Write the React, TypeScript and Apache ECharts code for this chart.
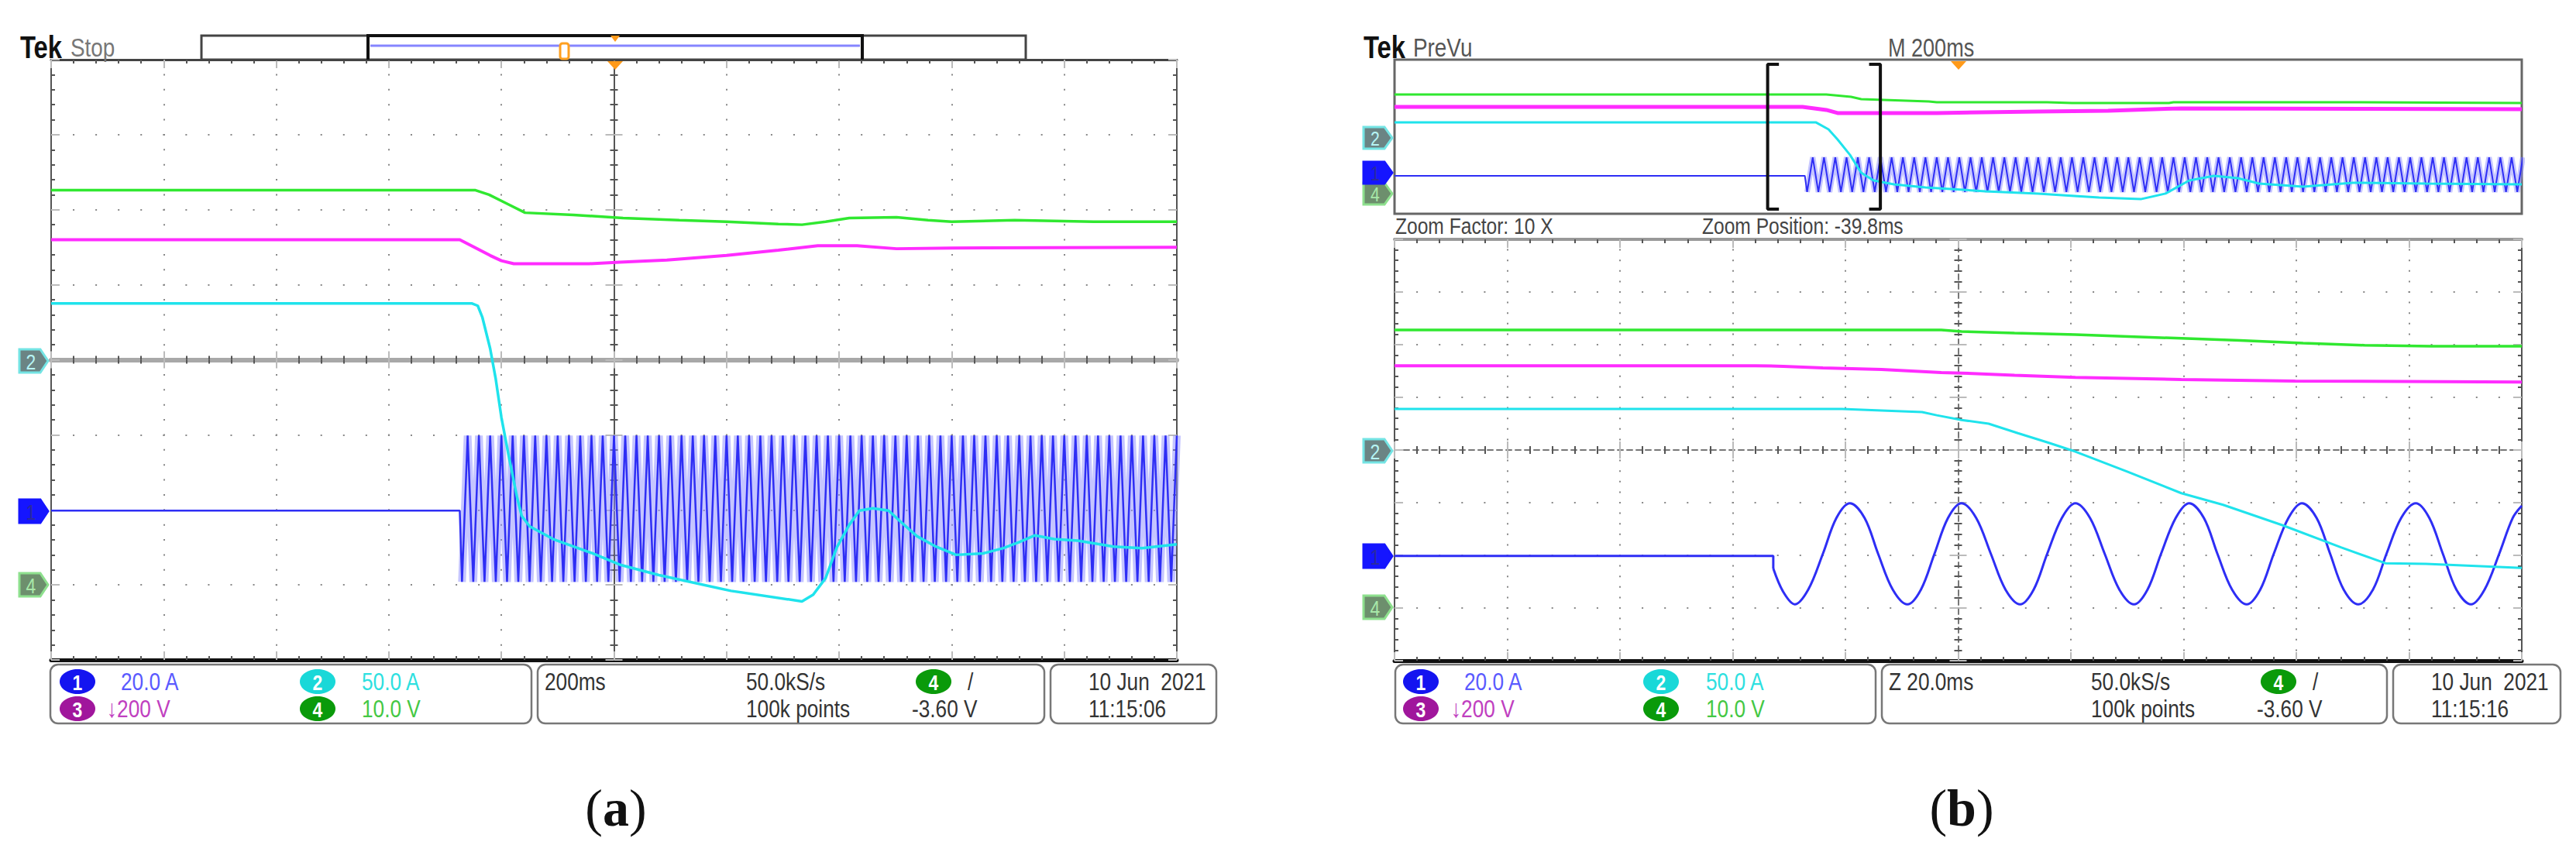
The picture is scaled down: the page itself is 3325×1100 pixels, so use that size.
import React, { useEffect, useRef } from "react";
import * as echarts from "echarts";

// ================= DATA (screen divisions: x centred on the trigger, y centred on the screen) =================
// ---- Panel (a): whole record, 200 ms/div ----
const ch4A = [[-5, 2.26], [-1.23, 2.26], [-1.11, 2.2], [-0.95, 2.08], [-0.79, 1.96], [-0.36, 1.93], [0.08, 1.89], [0.58, 1.86], [1.0, 1.84], [1.46, 1.81], [1.67, 1.8], [1.88, 1.84], [2.09, 1.89], [2.51, 1.9], [2.79, 1.86], [3.0, 1.84], [3.56, 1.86], [3.91, 1.85], [4.26, 1.84], [5, 1.84]];
const ch3A = [[-5, 1.6], [-1.37, 1.6], [-1.24, 1.5], [-1.1, 1.39], [-1.0, 1.32], [-0.89, 1.28], [-0.22, 1.28], [0.05, 1.3], [0.47, 1.33], [1.0, 1.39], [1.46, 1.46], [1.81, 1.52], [2.16, 1.52], [2.51, 1.48], [3.0, 1.49], [5, 1.5]];
const ch2A = [[-5, 0.75], [-1.26, 0.75], [-1.21, 0.72], [-1.17, 0.57], [-1.1, 0.15], [-1.05, -0.26], [-1.0, -0.77], [-0.93, -1.32], [-0.86, -1.84], [-0.82, -2.08], [-0.75, -2.22], [-0.54, -2.39], [-0.19, -2.58], [0.05, -2.73], [0.4, -2.87], [1.04, -3.08], [1.67, -3.22], [1.77, -3.13], [1.88, -2.91], [1.98, -2.5], [2.09, -2.2], [2.18, -2.01], [2.3, -1.98], [2.44, -2.01], [2.54, -2.15], [2.69, -2.35], [2.86, -2.49], [3.04, -2.6], [3.28, -2.58], [3.46, -2.51], [3.6, -2.43], [3.74, -2.34], [3.91, -2.39], [4.12, -2.41], [4.44, -2.49], [4.69, -2.51], [5, -2.46]];
const ch1AFlat = [[-5, -2.01], [-1.37, -2.01]];
const ch1ASwingStart = -1.35; // first extreme after the drive starts (div)
const ch1ASwingStep = 0.05; // spacing of successive extremes (50 Hz at 200 ms/div)
const ch1ASwing = [
  -2.96, -1.01, -2.96, -1.01, -2.96, -1.01, -2.96, -1.01, -2.96, -1.01, -2.96, -1.01, -2.96, -1.01, -2.96, -1.01,
  -2.96, -1.01, -2.96, -1.01, -2.96, -1.01, -2.96, -1.01, -2.96, -1.01, -2.96, -1.01, -2.96, -1.01, -2.96, -1.01,
  -2.96, -1.01, -2.96, -1.01, -2.96, -1.01, -2.96, -1.01, -2.96, -1.01, -2.96, -1.01, -2.96, -1.01, -2.96, -1.01,
  -2.96, -1.01, -2.96, -1.01, -2.96, -1.01, -2.96, -1.01, -2.96, -1.01, -2.96, -1.01, -2.96, -1.01, -2.96, -1.01,
  -2.96, -1.01, -2.96, -1.01, -2.96, -1.01, -2.96, -1.01, -2.96, -1.01, -2.96, -1.01, -2.96, -1.01, -2.96, -1.01,
  -2.96, -1.01, -2.96, -1.01, -2.96, -1.01, -2.96, -1.01, -2.96, -1.01, -2.96, -1.01, -2.96, -1.01, -2.96, -1.01,
  -2.96, -1.01, -2.96, -1.01, -2.96, -1.01, -2.96, -1.01, -2.96, -1.01, -2.96, -1.01, -2.96, -1.01, -2.96, -1.01,
  -2.96, -1.01, -2.96, -1.01, -2.96, -1.01, -2.96, -1.01, -2.96, -1.01, -2.96, -1.01, -2.96, -1.01, -2.96, -1.01,
];

// ---- Panel (b) PreVu strip: whole record, 200 ms/div ----
const ch4P = [[-5, 2.19], [-1.17, 2.19], [-0.95, 2.07], [-0.86, 1.95], [-0.26, 1.83], [-0.19, 1.79], [0.79, 1.79], [1.01, 1.75], [1.87, 1.75], [1.91, 1.79], [3.5, 1.79], [5, 1.75]];
const ch3P = [[-5, 1.55], [-1.38, 1.55], [-1.17, 1.39], [-1.07, 1.23], [-0.19, 1.23], [0.71, 1.31], [1.33, 1.35], [1.98, 1.47], [5, 1.43]];
const ch2P = [[-5, 0.74], [-1.26, 0.74], [-1.15, 0.38], [-1.07, -0.14], [-0.96, -0.94], [-0.86, -1.87], [-0.75, -2.27], [-0.57, -2.47], [-0.29, -2.63], [0.24, -2.83], [0.71, -2.95], [1.25, -3.16], [1.62, -3.24], [1.84, -2.95], [2.05, -2.27], [2.27, -2.03], [2.48, -2.15], [2.67, -2.43], [3.06, -2.59], [3.5, -2.39], [4.15, -2.43], [5, -2.47]];
const ch1PFlat = [[-5, -2.03], [-1.36, -2.03]];
const ch1PSwingStart = -1.34;
const ch1PSwingStep = 0.05;
const ch1PSwing = [
  -2.87, -1.07, -2.87, -1.07, -2.87, -1.07, -2.87, -1.07, -2.87, -1.07, -2.87, -1.07, -2.87, -1.07, -2.87, -1.07,
  -2.87, -1.07, -2.87, -1.07, -2.87, -1.07, -2.87, -1.07, -2.87, -1.07, -2.87, -1.07, -2.87, -1.07, -2.87, -1.07,
  -2.87, -1.07, -2.87, -1.07, -2.87, -1.07, -2.87, -1.07, -2.87, -1.07, -2.87, -1.07, -2.87, -1.07, -2.87, -1.07,
  -2.87, -1.07, -2.87, -1.07, -2.87, -1.07, -2.87, -1.07, -2.87, -1.07, -2.87, -1.07, -2.87, -1.07, -2.87, -1.07,
  -2.87, -1.07, -2.87, -1.07, -2.87, -1.07, -2.87, -1.07, -2.87, -1.07, -2.87, -1.07, -2.87, -1.07, -2.87, -1.07,
  -2.87, -1.07, -2.87, -1.07, -2.87, -1.07, -2.87, -1.07, -2.87, -1.07, -2.87, -1.07, -2.87, -1.07, -2.87, -1.07,
  -2.87, -1.07, -2.87, -1.07, -2.87, -1.07, -2.87, -1.07, -2.87, -1.07, -2.87, -1.07, -2.87, -1.07, -2.87, -1.07,
  -2.87, -1.07, -2.87, -1.07, -2.87, -1.07, -2.87, -1.07, -2.87, -1.07, -2.87, -1.07, -2.87, -1.07, -2.87, -1.07,
];
const zoomWindow = [-1.69, -0.69]; // PreVu bracket positions (div)

// ---- Panel (b) zoomed view, 20 ms/div ----
const ch4B = [[-5, 2.28], [-0.15, 2.28], [0.03, 2.25], [0.5, 2.22], [1.04, 2.19], [1.98, 2.12], [2.5, 2.08], [3.06, 2.03], [3.6, 1.99], [4.2, 1.97], [5, 1.97]];
const ch3B = [[-5, 1.6], [-1.8, 1.6], [-1.55, 1.59], [-1.2, 1.56], [-0.68, 1.53], [-0.15, 1.47], [0.03, 1.46], [0.5, 1.42], [1.04, 1.38], [1.98, 1.34], [2.99, 1.31], [5, 1.29]];
const ch2B = [[-5, 0.78], [-1.03, 0.78], [-0.68, 0.75], [-0.32, 0.72], [-0.19, 0.66], [0.03, 0.57], [0.27, 0.5], [0.53, 0.32], [0.8, 0.14], [1.04, -0.03], [1.5, -0.41], [1.98, -0.82], [2.35, -1.04], [2.88, -1.43], [3.4, -1.85], [3.79, -2.15], [4.15, -2.16], [5, -2.24]];
const ch1BFlat = [[-5, -2.01], [-1.64, -2.01], [-1.64, -2.25]];
const ch1BWave = [
  [-1.64, -2.25], [-1.55, -2.7], [-1.45, -2.93],
  [-1.33, -2.65], [-1.2, -1.97], [-1.08, -1.29], [-0.96, -1.01], [-0.83, -1.29], [-0.71, -1.97], [-0.58, -2.65], [-0.45, -2.93],
  [-0.33, -2.65], [-0.21, -1.97], [-0.09, -1.29], [0.03, -1.01], [0.16, -1.29], [0.29, -1.97], [0.42, -2.65], [0.55, -2.93],
  [0.67, -2.65], [0.79, -1.97], [0.92, -1.29], [1.04, -1.01], [1.17, -1.29], [1.3, -1.97], [1.43, -2.65], [1.56, -2.93],
  [1.68, -2.65], [1.8, -1.97], [1.93, -1.29], [2.05, -1.01], [2.18, -1.29], [2.3, -1.97], [2.43, -2.65], [2.56, -2.93],
  [2.68, -2.65], [2.8, -1.97], [2.93, -1.29], [3.05, -1.01], [3.18, -1.29], [3.3, -1.97], [3.42, -2.65], [3.55, -2.93],
  [3.68, -2.65], [3.8, -1.97], [3.93, -1.29], [4.06, -1.01], [4.18, -1.29], [4.3, -1.97], [4.42, -2.65], [4.55, -2.93],
  [4.67, -2.65], [4.8, -1.97], [4.92, -1.29], [5.0, -1.06],
];

// ---- Texts ----
const chScales = ["20.0 A", "\u2193200 V", "50.0 A", "10.0 V"];
const acqTexts = ["50.0kS/s", "100k points", "-3.60 V", "10 Jun\u00a0\u00a02021"];
const timeA = ["200ms", "11:15:06", "Stop"];
const timeB = ["Z 20.0ms", "11:15:16", "PreVu", "M 200ms", "Zoom Factor: 10 X", "Zoom Position: -39.8ms"];

// ================= STYLE =================
const FONT = "'Liberation Sans', Arial, sans-serif";
const NARROW = 0.82;
const SERIF = "'Liberation Serif', 'DejaVu Serif', serif";
const C1 = "#2e2ef5";
const C1L = "rgba(140,140,255,0.5)";
const C2 = "#1fe3ec";
const C3 = "#ff2cff";
const C4 = "#30e830";

const swingData = (flat: number[][], start: number, step: number, vals: number[]) =>
  flat.concat(vals.map((v, i) => [start + i * step, v]));

function gx(gridIndex: number, position: string, onZero: boolean, line: any, split?: any, ticks = true) {
  return {
    type: "value", gridIndex, min: -5, max: 5, interval: 1, position,
    axisLine: { show: !!line, onZero, lineStyle: line || {} },
    axisTick: { show: ticks, inside: true, length: 11, lineStyle: { color: "#bbb", width: 2 } },
    minorTick: { show: ticks, splitNumber: 5, length: 5, lineStyle: { color: "#555", width: 2 } },
    splitLine: split ? { show: true, lineStyle: split } : { show: false },
    axisLabel: { show: false },
  };
}
function gy(gridIndex: number, position: string, onZero: boolean, line: any, split?: any, ticks = true) {
  return {
    type: "value", gridIndex, min: -4, max: 4, interval: 1, position,
    axisLine: { show: !!line, onZero, lineStyle: line || {} },
    axisTick: { show: ticks, inside: true, length: 11, lineStyle: { color: "#bbb", width: 2 } },
    minorTick: { show: ticks, splitNumber: 5, length: 5, lineStyle: { color: "#555", width: 2 } },
    splitLine: split ? { show: true, lineStyle: split } : { show: false },
    axisLabel: { show: false },
  };
}

function line(xi: number, yi: number, data: any, color: string, width: number, extra: any = {}) {
  return {
    type: "line", xAxisIndex: xi, yAxisIndex: yi, data, symbol: "none", showSymbol: false,
    lineStyle: { color, width }, itemStyle: { color }, silent: true, z: 5, ...extra,
  };
}

function txt(x: number, y: number, text: string, fill: string, size = 32, extra: any = {}) {
  return {
    type: "text", x, y, z: 30, silent: true, scaleX: NARROW,
    style: {
      text, fill, fontSize: size, fontFamily: FONT,
      align: "left", verticalAlign: "middle", textAlign: "left", textVerticalAlign: "middle", ...extra,
    },
  };
}
function badge(cx: number, cy: number, n: string, fill: string) {
  return [
    { type: "ellipse", z: 30, silent: true, shape: { cx, cy, rx: 23, ry: 16 }, style: { fill } },
    txt(cx, cy + 1, n, "#fff", 28, { align: "center", textAlign: "center", fontWeight: "bold" }),
  ];
}
function marker(x: number, cy: number, h: number, n: string, fill: string, stroke: string, color: string) {
  return [
    {
      type: "polygon", z: 30, silent: true,
      shape: { points: [[x, cy - h / 2], [x + 27, cy - h / 2], [x + 37, cy], [x + 27, cy + h / 2], [x, cy + h / 2]] },
      style: { fill, stroke, lineWidth: 3 },
    },
    txt(x + 15, cy + 1, n, color, h - 2, { align: "center", textAlign: "center" }),
  ];
}
function box(x: number, y: number, w: number, h: number) {
  return { type: "rect", z: 25, silent: true, shape: { x, y, width: w, height: h, r: 10 }, style: { fill: "#fff", stroke: "#777", lineWidth: 2.5 } };
}
function tri(cx: number, top: number) {
  return { type: "polygon", z: 30, silent: true, shape: { points: [[cx - 10, top], [cx + 10, top], [cx, top + 11]] }, style: { fill: "#ff9a1a" } };
}

function statusBar(x0: number, ch: number[], acqX: number, acqTrigX: number, boxes: number[][], tTexts: string[]) {
  const g: any[] = [];
  boxes.forEach((b) => g.push(box(b[0], 858, b[1], 76)));
  const r1 = 880, r2 = 915;
  g.push(...badge(x0 + 34, r1, "1", "#1414f0"));
  g.push(txt(ch[0], r1, chScales[0], "#5a5aff"));
  g.push(...badge(x0 + 34, r2, "3", "#a0169c"));
  g.push(txt(ch[1], r2, chScales[1], "#c040c0"));
  g.push(...badge(x0 + 344, r1, "2", "#19d8d8"));
  g.push(txt(ch[2], r1, chScales[2], "#2ee0e0"));
  g.push(...badge(x0 + 344, r2, "4", "#0a9a0a"));
  g.push(txt(ch[2], r2, chScales[3], "#44c844"));
  g.push(txt(boxes[1][0] + 9, r1, tTexts[0], "#333"));
  g.push(txt(acqX, r1, acqTexts[0], "#333"));
  g.push(txt(acqX, r2, acqTexts[1], "#333"));
  g.push(...badge(acqTrigX + 28, r1, "4", "#0a9a0a"));
  g.push(txt(acqTrigX + 72, r1, "/", "#333"));
  g.push(txt(acqTrigX, r2, acqTexts[2], "#333"));
  g.push(txt(boxes[2][0] + 49, r1, acqTexts[3], "#333"));
  g.push(txt(boxes[2][0] + 49, r2, tTexts[1], "#333"));
  return g;
}

function buildGraphic() {
  const g: any[] = [];
  // ----- panel (a) header -----
  g.push(txt(26, 61, "Tek", "#111", 40, { fontWeight: "bold" }));
  g.push(txt(91, 62, timeA[2], "#777", 34));
  g.push({ type: "rect", z: 25, silent: true, shape: { x: 260, y: 46, width: 1064, height: 31 }, style: { fill: "#fff", stroke: "#444", lineWidth: 3 } });
  g.push({ type: "polyline", z: 26, silent: true, shape: { points: [[475, 77], [475, 46], [1113, 46], [1113, 77]] }, style: { stroke: "#111", lineWidth: 4, fill: null } });
  g.push({ type: "line", z: 26, silent: true, shape: { x1: 478, y1: 59, x2: 1110, y2: 59 }, style: { stroke: "#8585ff", lineWidth: 3 } });
  g.push({ type: "rect", z: 27, silent: true, shape: { x: 723, y: 56, width: 11, height: 20, r: 3 }, style: { fill: "#fff", stroke: "#ffa020", lineWidth: 3 } });
  g.push({ type: "polygon", z: 27, silent: true, shape: { points: [[788, 46], [800, 46], [794, 54]] }, style: { fill: "#ff9a1a" } });
  g.push(tri(794, 79));
  // markers (a)
  g.push(...marker(25, 466, 30, "2", "#6b8484", "#74e4e4", "#b6f4f4"));
  g.push(...marker(25, 660, 30, "1", "#1515ff", "#1515ff", "#2a2aa0"));
  g.push(...marker(25, 755, 30, "4", "#6d8f6d", "#8ee08e", "#a8e8a8"));
  // status (a)
  g.push(...statusBar(66, [156, 138, 467], 963, 1177, [[65, 621], [694, 654], [1356, 214]], timeA));

  // ----- panel (b) header -----
  g.push(txt(1760, 61, "Tek", "#111", 40, { fontWeight: "bold" }));
  g.push(txt(1824, 62, timeB[2], "#555", 34));
  g.push(txt(2437, 62, timeB[3], "#555", 33));
  g.push(tri(2528, 79));
  g.push(txt(1801, 292, timeB[4], "#444", 30));
  g.push(txt(2197, 292, timeB[5], "#444", 30));
  g.push(...marker(1760, 178, 28, "2", "#6b8484", "#74e4e4", "#b6f4f4"));
  g.push(...marker(1760, 250, 28, "4", "#6d8f6d", "#8ee08e", "#a8e8a8"));
  g.push(...marker(1760, 223, 28, "1", "#1515ff", "#1515ff", "#2a2aa0"));
  g.push(...marker(1760, 582, 30, "2", "#6b8484", "#74e4e4", "#b6f4f4"));
  g.push(...marker(1760, 718, 30, "1", "#1515ff", "#1515ff", "#2a2aa0"));
  g.push(...marker(1760, 784, 30, "4", "#6d8f6d", "#8ee08e", "#a8e8a8"));
  g.push(...statusBar(1800, [1890, 1873, 2202], 2699, 2913, [[1801, 620], [2429, 652], [3089, 216]], timeB));

  // ----- captions -----
  const cap = (cx: number, l: string) => ({
    type: "text", x: cx, y: 1043, z: 30, silent: true,
    style: {
      text: "{p|(}{b|" + l + "}{p|)}", align: "center", verticalAlign: "middle", textAlign: "center", textVerticalAlign: "middle",
      rich: {
        p: { fontSize: 68, fontFamily: SERIF, fill: "#111" },
        b: { fontSize: 68, fontFamily: SERIF, fontWeight: "bold", fill: "#111" },
      },
    },
  });
  g.push(cap(795, "a"));
  g.push(cap(2532, "b"));
  return g;
}

function buildOption() {
  const dotV_A = { color: "#888", width: 2, type: [2, 17.375], dashOffset: 1 };
  const dotH_A = { color: "#888", width: 2, type: [2, 27.06], dashOffset: 1 };
  const dotV_B = { color: "#888", width: 2, type: [2, 11.6], dashOffset: 1 };
  const dotH_B = { color: "#888", width: 2, type: [2, 27.1], dashOffset: 1 };
  const hidden = (gi: number, dim: "x" | "y") => ({ type: "value", gridIndex: gi, min: dim === "x" ? -5 : -4, max: dim === "x" ? 5 : 4, interval: 1, show: false });

  const zb = zoomWindow;
  const bracketL = [[zb[0] + 0.1, 3.76], [zb[0], 3.76], [zb[0], -3.76], [zb[0] + 0.1, -3.76]];
  const bracketR = [[zb[1] - 0.1, 3.76], [zb[1], 3.76], [zb[1], -3.76], [zb[1] - 0.1, -3.76]];

  const ch1A = swingData(ch1AFlat, ch1ASwingStart, ch1ASwingStep, ch1ASwing);
  const ch1AGlow = swingData([], ch1ASwingStart, ch1ASwingStep, ch1ASwing);
  const ch1P = swingData(ch1PFlat, ch1PSwingStart, ch1PSwingStep, ch1PSwing);
  const ch1PGlow = swingData([], ch1PSwingStart, ch1PSwingStep, ch1PSwing);

  return {
    animation: false,
    backgroundColor: "#fff",
    grid: [
      { left: 66, top: 77, width: 1453, height: 775, show: false },
      { left: 1800, top: 77, width: 1455, height: 199, show: true, borderColor: "#666", borderWidth: 3, backgroundColor: "transparent" },
      { left: 1800, top: 309, width: 1455, height: 544, show: false },
    ],
    xAxis: [
      gx(0, "bottom", false, { color: "#111", width: 5 }, dotV_A),
      gx(0, "top", false, { color: "#444", width: 3 }),
      gx(0, "bottom", true, { color: "#a8a8a8", width: 6 }),
      gx(0, "top", true, null),
      hidden(1, "x"),
      gx(2, "bottom", false, { color: "#111", width: 5 }, dotV_B),
      gx(2, "top", false, { color: "#999", width: 4 }),
      gx(2, "bottom", true, { color: "#777", width: 2, type: [7, 5] }),
      gx(2, "top", true, null),
    ],
    yAxis: [
      gy(0, "left", false, { color: "#555", width: 2 }, dotH_A),
      gy(0, "right", false, { color: "#555", width: 2 }),
      gy(0, "left", true, { color: "#555", width: 2 }),
      gy(0, "right", true, null),
      hidden(1, "y"),
      gy(2, "left", false, { color: "#555", width: 2 }, dotH_B),
      gy(2, "right", false, { color: "#555", width: 2 }),
      gy(2, "left", true, { color: "#777", width: 2, type: [7, 5] }),
      gy(2, "right", true, null),
    ],
    series: [
      // panel (a)
      line(0, 0, ch1AGlow, C1L, 10),
      line(0, 0, ch1A, C1, 2.5),
      line(0, 0, ch4A, C4, 3.5),
      line(0, 0, ch3A, C3, 4),
      line(0, 0, ch2A, C2, 3.5),
      // PreVu
      line(4, 4, ch1PGlow, C1L, 7),
      line(4, 4, ch1P, C1, 2),
      line(4, 4, ch4P, C4, 3),
      line(4, 4, ch3P, C3, 5),
      line(4, 4, ch2P, C2, 3),
      line(4, 4, bracketL, "#111", 4),
      line(4, 4, bracketR, "#111", 4),
      // zoomed (b)
      line(5, 5, ch1BFlat, C1, 3),
      line(5, 5, ch1BWave, C1, 3, { smooth: 0.35 }),
      line(5, 5, ch4B, C4, 3.5),
      line(5, 5, ch3B, C3, 4),
      line(5, 5, ch2B, C2, 3),
    ],
    graphic: { elements: buildGraphic() },
  };
}

export default function App() {
  const ref = useRef<HTMLDivElement>(null);
  useEffect(() => {
    if (!ref.current) return;
    const chart = echarts.init(ref.current, null, { renderer: "svg" });
    chart.setOption(buildOption() as any);
    return () => chart.dispose();
  }, []);
  return <div ref={ref} style={{ position: "fixed", left: 0, top: 0, width: 3325, height: 1100, background: "#fff" }} />;
}
